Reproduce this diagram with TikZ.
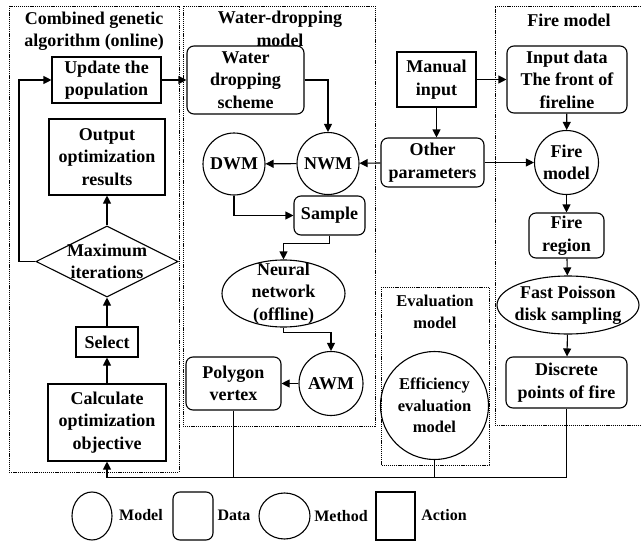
\documentclass[tikz,border=0pt]{standalone}
\usepackage{fontspec}
\setmainfont{Liberation Serif}
\usetikzlibrary{shapes.geometric,arrows.meta}
\begin{document}
\begin{tikzpicture}[x=1pt,y=-1pt,
  every node/.style={font=\bfseries\fontsize{18}{22.5}\selectfont, align=center, inner sep=0pt},
  smallf/.style={font=\bfseries\fontsize{16.5}{21.5}\selectfont},
  legf/.style={font=\bfseries\fontsize{16}{19}\selectfont},
  ln/.style={line width=1.1pt},
  sz/.style n args={2}{minimum width=#1, minimum height=#2},
  act/.style={draw, ln, rectangle},
  dat/.style={draw, ln, rectangle, rounded corners=7pt},
  mdl/.style={draw, ln, circle},
  mth/.style={draw, ln, ellipse},
  grp/.style={draw, line width=0.9pt, dash pattern=on 1.2pt off 0.9pt},
  arr/.style={ln, -{Triangle[length=8pt,width=8pt]}}]
\useasboundingbox (0,0) rectangle (641,544);

% group boxes
\draw[grp] (9,6) rectangle (179,472);
\draw[grp] (183,6) rectangle (375,426);
\draw[grp] (645,6) -- (495,6) -- (495,425) -- (645,425);
\draw[grp] (381,287) rectangle (489,465);
\node (gatitle) at (94,31) {Combined genetic\\algorithm (online)};
\node (wdtitle) at (280,29) {Water-dropping\\model};
\node (fmtitle) at (569,20) {Fire model};
\node[smallf] (evtitle) at (435,312) {Evaluation\\model};

% genetic algorithm
\node[act, sz={109}{46}] (update) at (106.5,80) {Update the\\population};
\node[act, sz={116}{76}] (output) at (107,157) {Output\\optimization\\results};
\node[draw, ln, diamond, sz={142}{71}] (maxit) at (107,261.5) {};
\node (maxittxt) at (107,261.5) {Maximum\\iterations};
\node[act, sz={62}{30}] (select) at (107,342) {Select};
\node[act, sz={118}{77}] (calc) at (107,422.5) {Calculate\\optimization\\objective};

% water dropping
\node[dat, sz={117}{68}] (scheme) at (245.5,80) {Water\\dropping\\scheme};
\node[mdl, minimum size=62] (nwm) at (328,163.5) {NWM};
\node[mdl, minimum size=62] (dwm) at (234,164) {DWM};
\node[dat, sz={71}{39}] (sample) at (329.5,215.5) {Sample};
\node[mth, sz={123}{67}] (neural) at (283.5,293.5) {};
\node (neuraltxt) at (283.5,293.5) {Neural\\network\\(offline)};
\node[mdl, minimum size=64] (awm) at (331,383.5) {AWM};
\node[dat, sz={95}{53}] (polygon) at (233.5,383.5) {Polygon\\vertex};

% inputs
\node[act, sz={79}{55}] (manual) at (436.5,79.5) {Manual\\input};
\node[dat, sz={103}{49}] (other) at (432.5,162.5) {Other\\parameters};

% fire model
\node[dat, sz={120}{67}] (input) at (567,79.5) {Input data\\The front of\\fireline};
\node[mdl, minimum size=64] (firem) at (566.5,162.5) {};
\node (firemtxt) at (566.5,162.5) {Fire\\model};
\node[dat, sz={75}{45}] (region) at (566.5,235.5) {Fire\\region};
\node[mth, sz={142}{58}] (poisson) at (568,305) {};
\node (poissontxt) at (568,305) {Fast Poisson\\disk sampling};
\node[dat, sz={121}{51}] (discrete) at (566.5,382.5) {Discrete\\points of fire};

% evaluation
\node[mdl, minimum size=108] (eff) at (434.5,405.5) {};
\node[smallf] (efftxt) at (434.5,405.5) {Efficiency\\evaluation\\model};

% connectors
\coordinate (bus) at (0,477.5);
\coordinate (loopc) at (19,261.5);
\draw[arr] (update) -- (scheme);
\draw[arr] (scheme.east) -| (nwm.north);
\draw[arr] (nwm) -- (dwm);
\draw[arr] (other) -- (nwm);
\draw[arr] (other) -- (firem);
\draw[arr] (manual.south) -- (manual.south |- other.north);
\draw[arr] (manual) -- (input);
\draw[arr] (input) -- (firem);
\draw[arr] (firem) -- (region);
\draw[arr] (region) -- (poisson);
\draw[arr] (poisson) -- (discrete);
\draw[arr] (dwm.south) |- (sample.west);
\draw[arr] (sample.south) -- ++(0,8) -| (neural.north);
\draw[arr] (neural.south) -- ++(0,5) -| (awm.north);
\draw[arr] (awm) -- (polygon);
\draw[arr] (calc) -- (select);
\draw[arr] (select) -- (maxit.south);
\draw[arr] (maxit.north) -- (output);
\draw[arr] (maxit.west) -- (loopc) |- (update.west);
\draw[arr] (discrete.south) |- (calc.south |- bus) -- (calc.south);
\draw[ln] (polygon.south) -- (polygon.south |- bus);
\draw[ln] (eff.south) -- (eff.south |- bus);

% legend
\node[mdl, ellipse, sz={40}{48}] (legmodel) at (92,516) {};
\node[legf] (legmodeltxt) at (141,515) {Model};
\node[dat, sz={40}{48}] (legdata) at (193,516) {};
\node[legf] (legdatatxt) at (234,515) {Data};
\node[mth, sz={51}{46}] (legmethod) at (284.5,516) {};
\node[legf] (legmethodtxt) at (341,516) {Method};
\node[act, sz={39}{48}] (legaction) at (395.5,516) {};
\node[legf] (legactiontxt) at (444,515) {Action};
\end{tikzpicture}
\end{document}
